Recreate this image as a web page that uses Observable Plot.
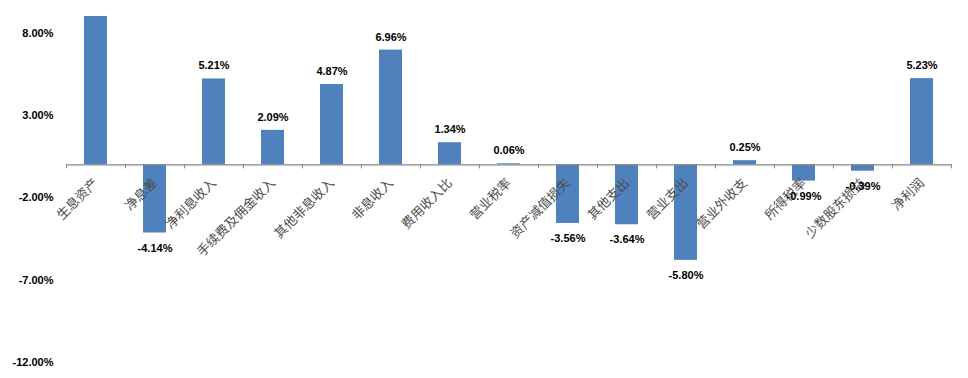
<!DOCTYPE html>
<html>
<head>
<meta charset="utf-8">
<script src="https://cdn.jsdelivr.net/npm/d3@7"></script>
<script src="https://cdn.jsdelivr.net/npm/@observablehq/plot@0.6"></script>
<style>
  html, body { margin: 0; padding: 0; background: #fff; }
  #chart svg { display: block; }
</style>
</head>
<body>
<div id="chart"></div>
<script>
const categories = ["生息资产", "净息差", "净利息收入", "手续费及佣金收入", "其他非息收入", "非息收入", "费用收入比", "营业税率", "资产减值损失", "其他支出", "营业支出", "营业外收支", "所得税率", "少数股东损益", "净利润"];
const values = [9.75, -4.14, 5.21, 2.09, 4.87, 6.96, 1.34, 0.06, -3.56, -3.64, -5.80, 0.25, -0.99, -0.39, 5.23];
const yTicks = [-12, -7, -2, 3, 8];
const yMax = 9;

const data = categories.map((c, i) => ({category: c, value: values[i]}));
const W = 968, H = 378, ML = 66, MR = 16;
const bw = (W - ML - MR) / categories.length;
const fmt = v => v.toFixed(2) + "%";
const numFont = "Liberation Sans, Arial, sans-serif";

const chart = Plot.plot({
  width: W,
  height: H,
  marginLeft: ML,
  marginRight: MR,
  marginTop: 16,
  marginBottom: 16,
  x: {domain: categories, paddingInner: 0.61, paddingOuter: 0.305, axis: null},
  y: {domain: [-12, yMax], axis: null},
  style: {background: "#fff"},
  marks: [
    Plot.barY(data, {x: "category", y: "value", fill: "#4F81BD", clip: true}),
    Plot.ruleY([0], {stroke: "#868686", strokeWidth: 1.2}),
    Plot.ruleX(categories, {x: d => d, y1: 0, y2: -0.25, stroke: "#868686", dx: -bw / 2}),
    Plot.ruleX(categories.slice(-1), {x: d => d, y1: 0, y2: -0.25, stroke: "#868686", dx: bw / 2}),
    Plot.axisY({ticks: yTicks, tickFormat: fmt, tickSize: 0, tickPadding: 13, label: null,
      fontSize: 11, fontWeight: "bold", fontFamily: numFont, fill: "#000"}),
    Plot.text(categories, {x: d => d, y: 0, text: d => d, rotate: -45, textAnchor: "end",
      dy: 16, dx: 0, fontSize: 13, fill: "#4d4d4d", fontFamily: "Noto Sans CJK SC, sans-serif"}),
    Plot.text(data.filter(d => d.value >= 0 && d.value <= yMax), {x: "category", y: "value", text: d => fmt(d.value),
      dy: -13, fontSize: 11, fontWeight: "bold", fill: "#000", fontFamily: numFont}),
    Plot.text(data.filter(d => d.value < 0), {x: "category", y: "value", text: d => fmt(d.value),
      dy: 15, fontSize: 11, fontWeight: "bold", fill: "#000", fontFamily: numFont})
  ]
});
document.getElementById("chart").appendChild(chart);
</script>
</body>
</html>
